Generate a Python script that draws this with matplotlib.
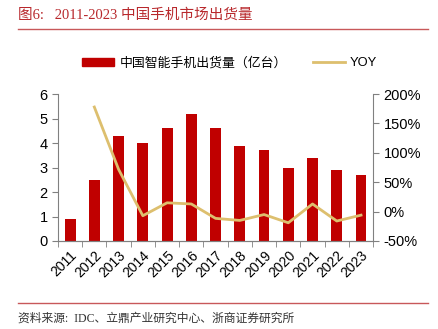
import numpy as np
import matplotlib.pyplot as plt
from matplotlib.lines import Line2D

plt.rcParams['font.family'] = ['Liberation Sans', 'Noto Sans CJK SC']

# data
years = ['2011', '2012', '2013', '2014', '2015', '2016', '2017',
         '2018', '2019', '2020', '2021', '2022', '2023']
shipments = [0.9, 2.5, 4.3, 4.0, 4.6, 5.2, 4.6, 3.9, 3.7, 3.0, 3.4, 2.9, 2.7]
yoy = [np.nan, 178, 72, -7, 15, 13, -11.5, -15, -5, -19, 13, -16, -6]

bar_color = '#C00000'
line_color = '#DDBF6E'
grey = '#808080'

fig = plt.figure(figsize=(4.39, 3.29), dpi=100)
ax = fig.add_axes([0.132, 0.2675, 0.718, 0.4465])
ax2 = ax.twinx()

x = np.arange(len(years))
ax.bar(x, shipments, width=0.45, color=bar_color, zorder=2)
ax2.plot(x, yoy, color=line_color, lw=2, zorder=3)

ax.set_xlim(-0.5, len(years) - 0.5)
ax.set_ylim(0, 6)
ax.set_yticks(range(0, 7))
ax2.set_ylim(-50, 200)
ax2.set_yticks(range(-50, 201, 50))
ax2.set_yticklabels([f'{v}%' for v in range(-50, 201, 50)])

ax.set_xticks(x)
ax.set_xticklabels(years, rotation=45, ha='right', rotation_mode='anchor')
ax.set_xticks(np.arange(-0.5, len(years)), minor=True)
ax.tick_params(axis='x', which='major', length=0, labelsize=10, pad=5)
ax.tick_params(axis='x', which='minor', length=4, color=grey)
ax.tick_params(axis='y', length=4, color=grey, labelsize=10.5)
ax2.tick_params(axis='y', length=4, color=grey, labelsize=10.5)

for a in (ax, ax2):
    a.spines['top'].set_visible(False)
    for s in ('left', 'right', 'bottom'):
        a.spines[s].set_color(grey)
        a.spines[s].set_linewidth(0.8)
ax2.spines['left'].set_visible(False)
ax.spines['right'].set_visible(False)

# legend
handles = [plt.Rectangle((0, 0), 1, 1, color=bar_color),
           Line2D([0], [0], color=line_color, lw=2)]
fig.legend(handles, ['中国智能手机出货量（亿台）', 'YOY'], loc='center',
           bbox_to_anchor=(0.523, 0.808), ncol=2, frameon=False, fontsize=9.3,
           handlelength=2.5, handleheight=0.6, columnspacing=2.0,
           handletextpad=0.4)

# title and source
fig.text(0.041, 0.953, '图6:   2011-2023 中国手机市场出货量', color='#B8282C',
         fontsize=10.5, va='center', ha='left',
         family=['Liberation Serif', 'Noto Sans CJK SC'])
fig.add_artist(Line2D([0.041, 0.975], [0.912, 0.912], color='#C8585A', lw=1))
fig.add_artist(Line2D([0.041, 0.975], [0.079, 0.079], color='#C8585A', lw=1))
fig.text(0.041, 0.033, '资料来源:  IDC、立鼎产业研究中心、浙商证券研究所',
         color='#333333', fontsize=8.5, va='center', ha='left',
         family=['Liberation Serif', 'Noto Sans CJK SC'])

fig.savefig('out.png', dpi=100)
